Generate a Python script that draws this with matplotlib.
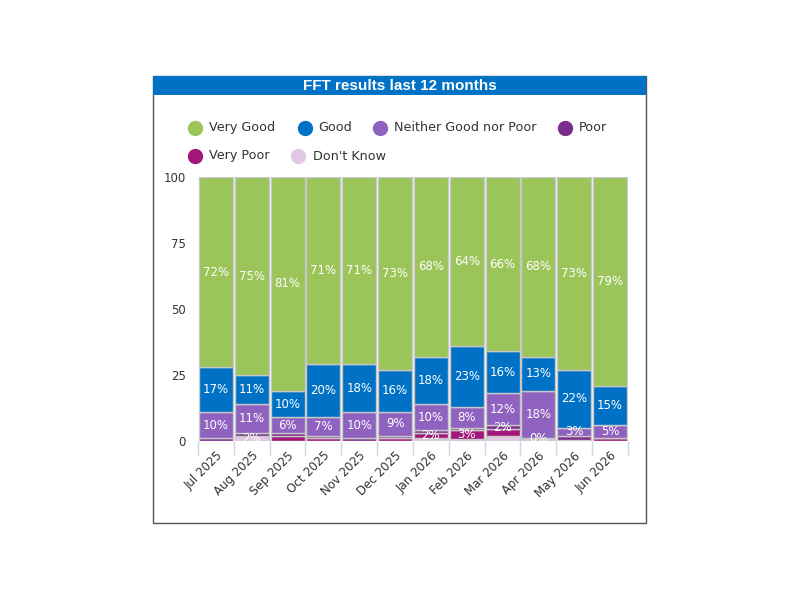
import matplotlib
matplotlib.use("Agg")
import matplotlib.pyplot as plt
from matplotlib.patches import Rectangle
from matplotlib.lines import Line2D
import numpy as np

months = ["Jul 2025", "Aug 2025", "Sep 2025", "Oct 2025", "Nov 2025", "Dec 2025",
          "Jan 2026", "Feb 2026", "Mar 2026", "Apr 2026", "May 2026", "Jun 2026"]

series_names = ["Very Good", "Good", "Neither Good nor Poor", "Poor", "Very Poor", "Don't Know"]

very_good = [72, 75, 81, 71, 71, 73, 68, 64, 66, 68, 73, 79]
good      = [17, 11, 10, 20, 18, 16, 18, 23, 16, 13, 22, 15]
neither   = [10, 11, 6, 7, 10, 9, 10, 8, 12, 18, 3, 5]
poor      = [1, 1, 1, 1, 1, 1, 1, 1, 1.6, 0.4, 1.5, 0]
very_poor = [0, 0, 2, 1, 0, 1, 2, 3.2, 2.4, 0.3, 0.5, 1]
dont_know = [0, 2, 0, 0, 0, 0, 1, 0.8, 2, 0.3, 0, 0]

colors = ["#9BC459", "#0072C6", "#8F62C0", "#7A2D8C", "#A3177B", "#E2C8E4"]

values = [very_good, good, neither, poor, very_poor, dont_know]

fig = plt.figure(figsize=(8, 6), dpi=100)
fig.patch.set_facecolor("white")

# frame and header
fig.patches.append(Rectangle((0.19125, 0.1283), 0.61625, 0.745, transform=fig.transFigure,
                             facecolor="white", edgecolor="#555555", linewidth=1, zorder=-2))
fig.patches.append(Rectangle((0.19125, 0.8417), 0.61625, 0.0316, transform=fig.transFigure,
                             facecolor="#0072C6", edgecolor="none", zorder=-1))
fig.text(0.4995, 0.8575, "FFT results last 12 months", color="white", fontsize=11,
         fontweight="bold", ha="center", va="center", family="Liberation Sans")

ax = fig.add_axes([0.2475, 0.265, 0.5375, 0.44])
ax.set_zorder(3)
ax.patch.set_alpha(0)
x = np.arange(len(months))

# stack from bottom: Don't Know at bottom, Very Good on top
order = list(range(len(series_names)))[::-1]
bottom = np.zeros(len(months))
bottoms = {}
for i in order:
    v = np.array(values[i], dtype=float)
    ax.bar(x, v, bottom=bottom, width=0.95, color=colors[i], edgecolor="#C8C8C8",
           linewidth=1, zorder=2)
    bottoms[i] = bottom.copy()
    bottom = bottom + v

ax.set_xlim(-0.5, len(months) - 0.5)
ax.set_ylim(0, 100)

fig.canvas.draw()
min_gap_px = 17
for j in range(len(months)):
    shown = []
    for i in range(len(series_names)):
        v = values[i][j]
        if v <= 0:
            continue
        c = bottoms[i][j] + v / 2
        ypx = ax.transData.transform((j, c))[1]
        if all(abs(ypx - s) >= min_gap_px for s in shown):
            shown.append(ypx)
            ax.text(j, c, f"{v:.0f}%", color="white", fontsize=8.5, ha="center",
                    va="center", zorder=5)

ax.set_yticks([0, 25, 50, 75, 100])
ax.tick_params(axis="y", length=0, labelsize=8.5, labelcolor="#333333", pad=9)
ax.set_xticks(x)
ax.set_xticklabels(months, rotation=45, ha="right", rotation_mode="anchor",
                   fontsize=8.5, color="#333333")
ax.tick_params(axis="x", length=0, pad=6)
ax.set_xticks(np.arange(-0.5, len(months)), minor=True)
ax.tick_params(axis="x", which="minor", length=10, color="#CCD6EB", width=1)
for s in ax.spines.values():
    s.set_visible(False)

# legend
leg_rows = [(0.7867, [(0.244, 0.261), (0.381, 0.3975), (0.475, 0.4925), (0.706, 0.7237)]),
            (0.74, [(0.244, 0.261), (0.3725, 0.391)])]
k = 0
for yrow, entries in leg_rows:
    for mx, tx in entries:
        fig.lines.append(Line2D([mx], [yrow], marker="o", markersize=10, color=colors[k],
                                linestyle="none", transform=fig.transFigure))
        fig.text(tx, yrow, series_names[k], fontsize=9.2, color="#333333", va="center",
                 ha="left")
        k += 1

fig.savefig("out.png", dpi=100)
